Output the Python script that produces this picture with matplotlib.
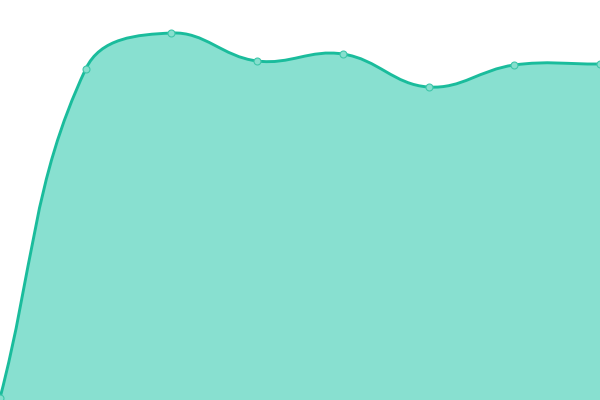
import matplotlib
matplotlib.use("Agg")
import matplotlib.pyplot as plt
from matplotlib.path import Path
from matplotlib.patches import PathPatch
import numpy as np

# values (y axis 0..400)
labels = ["1", "2", "3", "4", "5", "6", "7", "8"]
values = [2, 331, 367, 339, 346, 313, 335, 336]

line_color = "#1abc9c"
fill_color = "#88e0d0"

W, H = 600, 400
tension = 0.4


def spline_path(xs, ys, sx, sy):
    # Chart.js style spline control points, computed in pixel space
    px = np.array(xs) * sx
    py = np.array(ys) * sy
    n = len(px)
    cp_prev = []
    cp_next = []
    for i in range(n):
        p0 = (px[max(i - 1, 0)], py[max(i - 1, 0)])
        p1 = (px[i], py[i])
        p2 = (px[min(i + 1, n - 1)], py[min(i + 1, n - 1)])
        d01 = np.hypot(p1[0] - p0[0], p1[1] - p0[1])
        d12 = np.hypot(p2[0] - p1[0], p2[1] - p1[1])
        tot = d01 + d12
        s01 = d01 / tot if tot else 0
        s12 = d12 / tot if tot else 0
        fa = tension * s01
        fb = tension * s12
        cp_prev.append((p1[0] - fa * (p2[0] - p0[0]), p1[1] - fa * (p2[1] - p0[1])))
        cp_next.append((p1[0] + fb * (p2[0] - p0[0]), p1[1] + fb * (p2[1] - p0[1])))
    verts = [(px[0], py[0])]
    codes = [Path.MOVETO]
    for i in range(1, n):
        verts += [cp_next[i - 1], cp_prev[i], (px[i], py[i])]
        codes += [Path.CURVE4] * 3
    verts = [(vx / sx, vy / sy) for vx, vy in verts]
    return verts, codes


fig = plt.figure(figsize=(6, 4), dpi=100)
ax = fig.add_axes([0, 0, 1, 1])
x = np.arange(len(values))
ax.set_xlim(0, len(values) - 1)
ax.set_ylim(0, 400)
ax.axis("off")

sx = W / (len(values) - 1)
sy = H / 400
verts, codes = spline_path(x, values, sx, sy)

# filled area under the curve
fverts = verts + [(x[-1], 0), (x[0], 0), (x[0], values[0])]
fcodes = codes + [Path.LINETO, Path.LINETO, Path.CLOSEPOLY]
ax.add_patch(PathPatch(Path(fverts, fcodes), facecolor=fill_color, edgecolor="none"))

# the line
ax.add_patch(PathPatch(Path(verts, codes), facecolor="none", edgecolor=line_color, lw=2.1))

# points
ax.plot(x, values, "o", ms=5, mfc="#86dfce", mec="#3fc7aa", mew=0.8)

fig.savefig("out.png", dpi=100)
